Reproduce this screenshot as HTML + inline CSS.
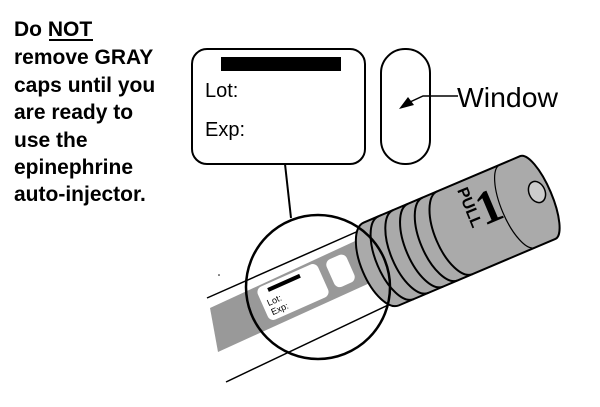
<!DOCTYPE html>
<html><head><meta charset="utf-8"><style>
html,body{margin:0;padding:0;background:#fff;}
svg{display:block}
</style></head><body>
<svg width="600" height="407" viewBox="0 0 600 407" xmlns="http://www.w3.org/2000/svg" font-family="Liberation Sans, sans-serif">
<g font-weight="bold" font-size="21" fill="#000">
<text x="14" y="36">Do NOT</text>
<line x1="49" y1="40" x2="93" y2="40" stroke="#000" stroke-width="2"/>
<text x="14" y="64">remove GRAY</text>
<text x="14" y="92">caps until you</text>
<text x="14" y="119">are ready to</text>
<text x="14" y="147">use the</text>
<text x="14" y="174">epinephrine</text>
<text x="14" y="201">auto-injector.</text>
</g>
<rect x="192" y="49" width="173" height="115" rx="15" fill="#fff" stroke="#000" stroke-width="2"/>
<rect x="221" y="57" width="120" height="14" fill="#000"/>
<text x="205" y="97" font-size="20">Lot:</text>
<text x="205" y="136" font-size="20">Exp:</text>
<rect x="381" y="49" width="49" height="115" rx="24" fill="#fff" stroke="#000" stroke-width="2"/>
<polyline points="458,96 423,96 410,102" fill="none" stroke="#000" stroke-width="1.5"/>
<polygon points="399,109 408,97 414,105" fill="#000"/>
<text x="457" y="107" font-size="28" textLength="101" lengthAdjust="spacingAndGlyphs">Window</text>
<line x1="285" y1="164" x2="291" y2="218" stroke="#000" stroke-width="2"/>
<!-- pen body -->
<polygon points="210,308 218,352 372,282 366,236" fill="#999"/>
<line x1="207" y1="298" x2="372" y2="225" stroke="#000" stroke-width="1.5"/>
<line x1="226" y1="382" x2="405" y2="297" stroke="#000" stroke-width="1.5"/>
<!-- magnified label -->
<g transform="translate(293,292) rotate(-24)">
<rect x="-33" y="-18" width="66" height="36" rx="6" fill="#fff"/>
<rect x="-22" y="-14" width="35" height="4" fill="#000"/>
<text x="-28" y="3" font-size="9">Lot:</text>
<text x="-28" y="13" font-size="9">Exp:</text>
<rect x="41" y="-15" width="22" height="30" rx="6" fill="#fff"/>
</g>
<!-- cap -->
<g transform="translate(466,228) rotate(-23)" stroke="#000" stroke-width="2">
<path d="M-92,-45 L78,-45 A14,45 0 0 1 78,45 L-92,45 A20,45 0 0 1 -92,-45 Z" fill="#aaa"/>
<path d="M-76,-45 A20,45 0 0 0 -76,45" fill="none"/>
<path d="M-60,-45 A20,45 0 0 0 -60,45" fill="none"/>
<path d="M-44,-45 A20,45 0 0 0 -44,45" fill="none"/>
<path d="M-28,-45 A20,45 0 0 0 -28,45" fill="none"/>
<path d="M-12,-45 A20,45 0 0 0 -12,45" fill="none"/>
<path d="M56,-45 A16,45 0 0 0 56,45" fill="none" stroke-width="1.2"/>
</g>
<ellipse cx="537" cy="192" rx="8" ry="11" transform="rotate(-24 537 192)" fill="#ccc" stroke="#000" stroke-width="1.5"/>
<text x="0" y="0" font-size="16" font-weight="bold" transform="translate(457,190) rotate(68)">PULL</text>
<text x="0" y="0" font-size="48" font-family="Liberation Serif, serif" font-weight="bold" transform="translate(484,226) rotate(-23)">1</text>
<!-- magnifier circle -->
<circle cx="318" cy="287" r="72" fill="none" stroke="#000" stroke-width="2.5"/>
<circle cx="219" cy="275" r="0.8" fill="#000"/>
</svg>
</body></html>
